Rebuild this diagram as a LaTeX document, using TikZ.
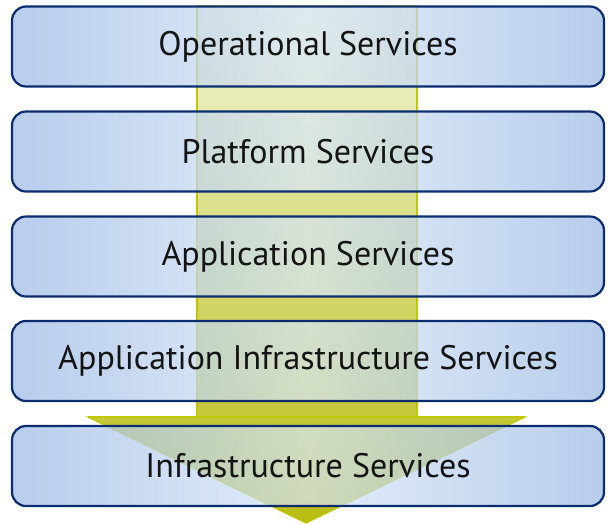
\documentclass[tikz,border=0pt]{standalone}
\usepackage{fontspec}
\setmainfont{PT Sans}
\definecolor{boxedge}{HTML}{0C2C70}
\definecolor{boxside}{HTML}{9CBAE4}
\definecolor{boxmid}{HTML}{D8E6F7}
\definecolor{arrtop}{HTML}{F4F6DA}
\definecolor{arrbot}{HTML}{B8BC10}
\definecolor{arredge}{HTML}{C2C800}
\definecolor{txt}{HTML}{141414}
\tikzset{
  layerbox/.style={draw=boxedge, line width=2.2pt, rounded corners=14pt,
    minimum width=592pt, minimum height=80pt, inner sep=0pt,
    left color=boxside, right color=boxside, middle color=boxmid,
    fill opacity=0.72, draw opacity=1, text opacity=1,
    font=\fontsize{34}{40}\selectfont, text=txt},
  bigarrow/.style={top color=arrtop, bottom color=arrbot, draw=arredge, line width=1.2pt}
}
\begin{document}
\begin{tikzpicture}[x=1pt, y=-1pt]
\useasboundingbox (0,0) rectangle (608,523);
\coordinate (s1) at (197,6);
\coordinate (s2) at (417,6);
\coordinate (s3) at (417,417);
\coordinate (s4) at (525,417);
\coordinate (tip) at (306,523);
\coordinate (s6) at (88,417);
\coordinate (s7) at (197,417);
\path[bigarrow] (s1) -- (s2) -- (s3) -- (s4) -- (tip) -- (s6) -- (s7) -- cycle;
\draw[arredge, line width=1.6pt] (s1) -- (s7) (s2) -- (s3) (s6) -- (s4);
\node[layerbox] (l1) at (308,46.5) {Operational Services};
\node[layerbox] (l2) at (308,151.5) {Platform Services};
\node[layerbox] (l3) at (308,256.5) {Application Services};
\node[layerbox] (l4) at (308,361) {Application Infrastructure Services};
\node[layerbox] (l5) at (308,466) {Infrastructure Services};
\end{tikzpicture}
\end{document}
